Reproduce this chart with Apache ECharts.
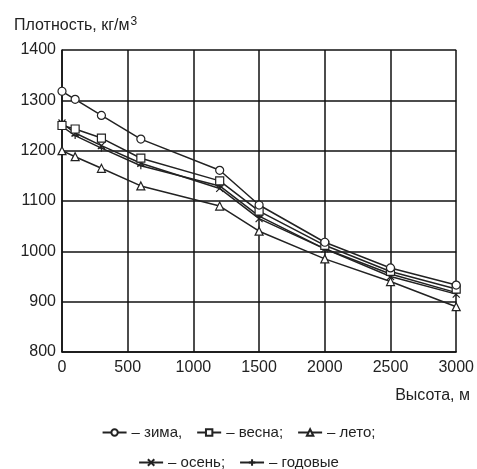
<!DOCTYPE html>
<html><head><meta charset="utf-8">
<script src="https://cdn.jsdelivr.net/npm/echarts@6/dist/echarts.min.js"></script>
<style>html,body{margin:0;padding:0;background:#fff}#c{width:477px;height:469px}</style>
</head><body><div id="c"></div>
<script>
const heights = [0, 100, 300, 600, 1200, 1500, 2000, 2500, 3000];
const winter = [1318, 1302, 1270, 1223, 1161, 1092, 1018, 967, 933];
const spring = [1250, 1243, 1225, 1185, 1140, 1080, 1012, 960, 925];
const summer = [1200, 1188, 1165, 1130, 1090, 1040, 985, 940, 890];
const autumn = [1255, 1235, 1210, 1175, 1125, 1065, 1005, 950, 915];
const annual = [1248, 1230, 1205, 1170, 1130, 1070, 1005, 955, 918];
const seriesNames = ['– зима,', '– весна;', '– лето;', '– осень;', '– годовые'];
const xTicks = [0, 500, 1000, 1500, 2000, 2500, 3000];
const yTicks = [800, 900, 1000, 1100, 1200, 1300, 1400];

const font = 'Liberation Sans, Arial, sans-serif';
const symbols = ['circle', 'rect', 'triangle',
  'path://M0,0L10,10M10,0L0,10', 'path://M5,0L5,10M0,5L10,5'];
const datasets = [winter, spring, summer, autumn, annual];
const series = datasets.map((d, i) => ({
  name: seriesNames[i],
  type: 'line',
  data: heights.map((h, j) => [h, d[j]]),
  symbol: symbols[i],
  symbolSize: i >= 3 ? 7 : 8,
  lineStyle: { color: '#222', width: 1.5 },
  itemStyle: { color: '#fff', borderColor: '#222', borderWidth: 1.2 },
  z: 10 - i
}));

const chart = echarts.init(document.getElementById('c'));
chart.setOption({
  animation: false,
  backgroundColor: '#fff',
  textStyle: { fontFamily: font },
  grid: { left: 62, right: 19, top: 50, bottom: 117 },
  title: [
    { text: '{a|Плотность, кг/м}{s|3}', left: 9, top: 11,
      textStyle: { fontWeight: 'normal', rich: {
        a: { fontFamily: font, fontSize: 16, fontWeight: 'normal', color: '#222', verticalAlign: 'bottom' },
        s: { fontFamily: font, fontSize: 12, fontWeight: 'normal', color: '#222', verticalAlign: 'top', padding: [0, 0, 6, 1] }
      } } },
    { text: 'Высота, м', right: 2, top: 383, textStyle: { fontFamily: font, fontSize: 16, fontWeight: 'normal', color: '#222' } }
  ],
  legend: [
    { data: seriesNames.slice(0, 3), top: 420, left: 'center', itemWidth: 24, itemHeight: 8, itemGap: 14,
      textStyle: { fontFamily: font, fontSize: 15, color: '#222' } },
    { data: seriesNames.slice(3), top: 450, left: 'center', itemWidth: 24, itemHeight: 8, itemGap: 14,
      textStyle: { fontFamily: font, fontSize: 15, color: '#222' } }
  ],
  xAxis: {
    type: 'value', min: xTicks[0], max: xTicks[xTicks.length - 1], interval: 500,
    axisLine: { show: true, lineStyle: { color: '#111', width: 1.5 } },
    axisTick: { show: false },
    splitLine: { show: true, lineStyle: { color: '#111', width: 1.5 } },
    axisLabel: { fontFamily: font, fontSize: 16, color: '#222', margin: 8, formatter: v => String(v) }
  },
  yAxis: {
    type: 'value', min: yTicks[0], max: yTicks[yTicks.length - 1], interval: 100,
    axisLine: { show: true, lineStyle: { color: '#111', width: 1.5 } },
    axisTick: { show: false },
    splitLine: { show: true, lineStyle: { color: '#111', width: 1.5 } },
    axisLabel: { fontFamily: font, fontSize: 16, color: '#222', margin: 6, formatter: v => String(v) }
  },
  series: series
});
</script></body></html>
